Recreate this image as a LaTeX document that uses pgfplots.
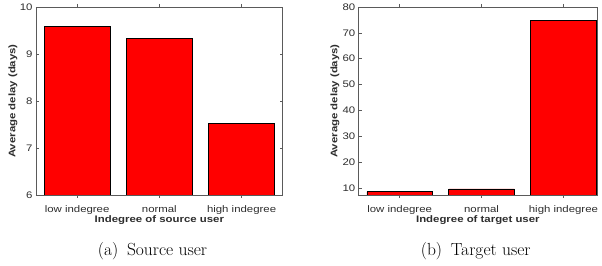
\documentclass[border=0pt]{standalone}
\usepackage{fontspec}
\usepackage{pgfplots}
\pgfplotsset{compat=1.18}
\newfontfamily\arial[FakeStretch=1.2]{Liberation Sans}
\definecolor{mgray}{RGB}{45,45,45}
\definecolor{spine}{RGB}{90,90,90}
\pgfplotsset{mystyle/.style={
  scale only axis, height=188bp,
  axis line style={spine, line width=0.6bp},
  tick style={spine, line width=0.6bp},
  tick align=inside, major tick length=3bp,
  xtick={1,2,3}, xticklabels={low indegree, normal, high indegree},
  xmin=0.5,
  ybar, bar width=0.8, bar shift=0pt,
  font=\arial\fontsize{9.3bp}{11bp}\selectfont,
  tick label style={text=mgray, font=\arial\fontsize{9.5bp}{11bp}\selectfont},
  xticklabel style={yshift=-4.5bp},
  label style={font=\arial\bfseries\fontsize{9.5bp}{11bp}\selectfont, text=mgray},
  xlabel style={at={(axis description cs:0.5,-0.133)}, anchor=center},
  /pgf/number format/assume math mode=true,
}}
\begin{document}
\begin{tikzpicture}
\path[use as bounding box] (0,0) rectangle (602bp,266bp);
\begin{axis}[mystyle, at={(36bp,71bp)}, anchor=south west, width=246.7bp,
  xmax=3.5, ymin=6, ymax=10, ytick={6,7,8,9,10},
  xlabel={Indegree of source user}, ylabel={Average delay (days)},
  ylabel style={at={(axis description cs:-0.093,0.5)}, anchor=center}]
\addplot[fill=red, draw=black, line width=0.7bp] coordinates {(1,9.59) (2,9.33) (3,7.53)};
\end{axis}
\begin{axis}[mystyle, at={(358.7bp,71bp)}, anchor=south west, width=238.3bp,
  xmax=3.41, ymin=7.25, ymax=80, ytick={10,20,30,40,50,60,70,80},
  xlabel={Indegree of target user}, ylabel={Average delay (days)},
  ylabel style={at={(axis description cs:-0.0995,0.5)}, anchor=center}]
\addplot[fill=red, draw=black, line width=0.7bp] coordinates {(1,8.6) (2,9.6) (3,74.7)};
\end{axis}
\node at (152.5bp,14.7bp) {\fontsize{17.5bp}{20bp}\selectfont (a)\hspace{0.5em}Source user};
\node at (475.7bp,14.7bp) {\fontsize{17.5bp}{20bp}\selectfont (b)\hspace{0.5em}Target user};
\end{tikzpicture}
\end{document}
